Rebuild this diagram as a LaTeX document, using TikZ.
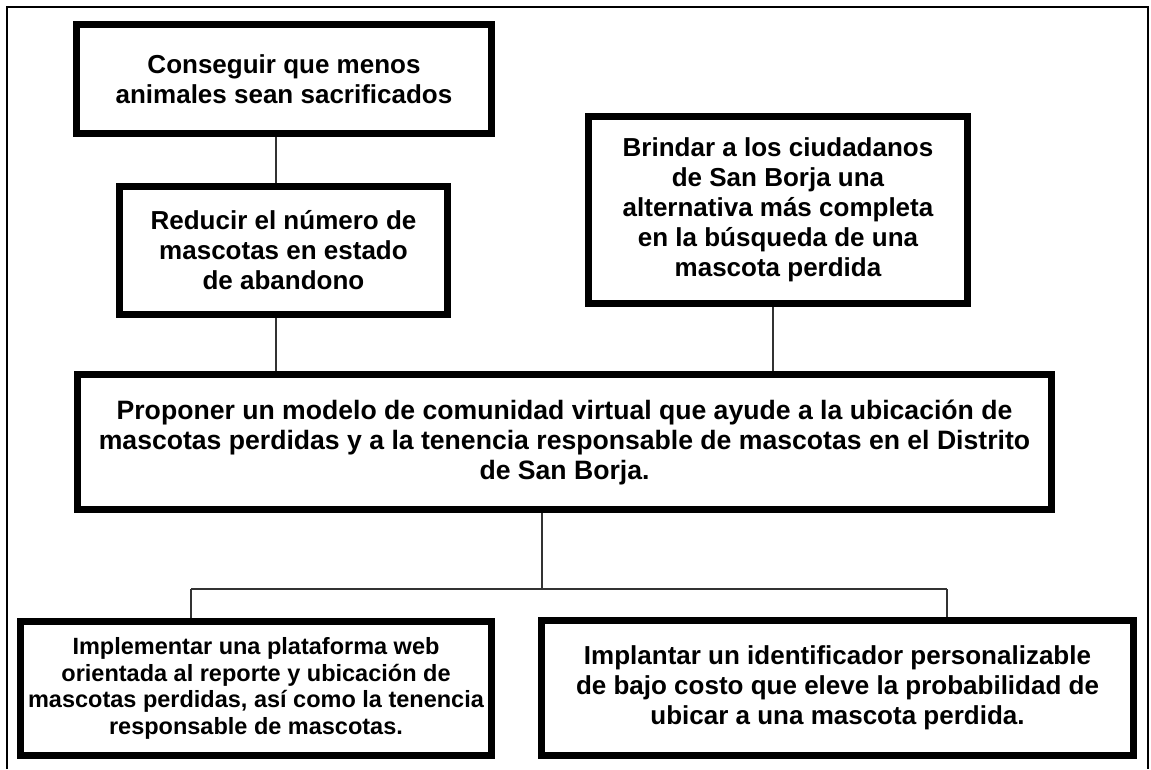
\documentclass[tikz,border=0pt]{standalone}
\usepackage{fontspec}
\setmainfont{Liberation Sans}
\tikzset{
  box/.style={draw=black, line width=7pt, inner sep=0pt, align=center,
    font=\fontsize{26}{30}\selectfont\bfseries},
  widebox/.style={box, font=\fontsize{26.6}{30}\selectfont\bfseries},
  smallbox/.style={box, font=\fontsize{23.5}{26.5}\selectfont\bfseries},
  conn/.style={draw=black!80, line width=1.5pt},
  frame/.style={draw=black, line width=1.5pt}
}
\begin{document}
\begin{tikzpicture}[x=1pt,y=-1pt]
\useasboundingbox (0,0) rectangle (1151,769);
\draw[frame] (7,769) -- (7,7) -- (1148,7) -- (1148,769);

\node[box, minimum width=415pt, minimum height=109pt] (b1) at (284,79)
  {Conseguir que menos\\animales sean sacrificados};
\node[box, minimum width=328pt, minimum height=128pt] (b2) at (283.5,250.5)
  {Reducir el número de\\mascotas en estado\\de abandono};
\node[box, minimum width=379pt, minimum height=187pt] (b3) at (778,210)
  {Brindar a los ciudadanos\\de San Borja una\\alternativa más completa\\en la búsqueda de una\\mascota perdida};
\node[widebox, minimum width=974pt, minimum height=135pt] (b4) at (564.5,442)
  {Proponer un modelo de comunidad virtual que ayude a la ubicación de\\mascotas perdidas y a la tenencia responsable de mascotas en el Distrito\\de San Borja.};
\node[smallbox, minimum width=471pt, minimum height=134pt] (b5) at (256,688.5)
  {Implementar una plataforma web\\orientada al reporte y ubicación de\\mascotas perdidas, así como la tenencia\\responsable de mascotas.};
\node[box, minimum width=592pt, minimum height=135pt] (b6) at (837.5,688)
  {Implantar un identificador personalizable\\de bajo costo que eleve la probabilidad de\\ubicar a una mascota perdida.};

\coordinate (xa) at (276,0);
\coordinate (xb) at (773,0);
\coordinate (xc) at (542,0);
\coordinate (split) at (542,589);
\coordinate (xl) at (191,589);
\coordinate (xr) at (947,589);

\draw[conn] (b1.south -| xa) -- (b2.north -| xa);
\draw[conn] (b2.south -| xa) -- (b4.north -| xa);
\draw[conn] (b3.south -| xb) -- (b4.north -| xb);
\draw[conn] (b4.south -| xc) -- (split);
\draw[conn] (xl) -- (xr);
\draw[conn] (xl) -- (b5.north -| xl);
\draw[conn] (xr) -- (b6.north -| xr);
\end{tikzpicture}
\end{document}
